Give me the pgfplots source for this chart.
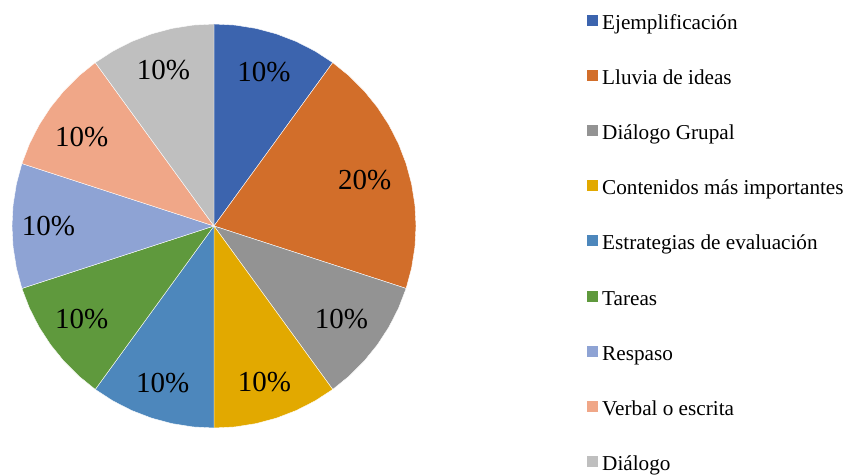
\documentclass[border=0pt]{standalone}
\usepackage{fontspec}
\setmainfont{Liberation Serif}
\usepackage{pgfplots}
\pgfplotsset{compat=1.18}
\usepgfplotslibrary{polar}
\definecolor{c1}{HTML}{3C64AE}
\definecolor{c2}{HTML}{D26E2A}
\definecolor{c3}{HTML}{939393}
\definecolor{c4}{HTML}{E2A900}
\definecolor{c5}{HTML}{4D87BC}
\definecolor{c6}{HTML}{5F993D}
\definecolor{c7}{HTML}{8EA3D4}
\definecolor{c8}{HTML}{F0A788}
\definecolor{c9}{HTML}{BFBFBF}
\begin{document}
\begin{tikzpicture}
\useasboundingbox (0pt,0pt) rectangle (848pt,476pt);
\coordinate (legtop) at (370pt,213.7pt);
\coordinate (pc) at (214pt,250pt);
\begin{polaraxis}[
  hide axis, clip=false,
  scale only axis, width=404pt, height=404pt,
  ymin=0, ymax=1,
  at={(pc)}, anchor=center,
  every axis plot/.append style={draw=white, line width=0.4pt},
  legend style={draw=none, fill=none, at={(legtop)}, anchor=north west,
    font=\fontsize{21.2}{21.2}\selectfont, row sep=35.1pt, column sep=0pt,
    nodes={inner sep=0pt, text height=15pt, text depth=5pt},
    /tikz/every odd column/.append style={column sep=4pt}},
  legend cell align=left,
  legend image code/.code={\fill[#1,draw=none] (0pt,-1.5pt) rectangle (11pt,9.5pt);},
]
% Ejemplificacion 10%
\addplot[fill=c1] coordinates {(0,0) (54,1) (60,1) (66,1) (72,1) (78,1) (84,1) (90,1) (0,0)};
\addlegendentry{Ejemplificación}
% Lluvia de ideas 20%
\addplot[fill=c2] coordinates {(0,0) (-18,1) (-12,1) (-6,1) (0,1) (6,1) (12,1) (18,1) (24,1) (30,1) (36,1) (42,1) (48,1) (54,1) (0,0)};
\addlegendentry{Lluvia de ideas}
% Dialogo Grupal 10%
\addplot[fill=c3] coordinates {(0,0) (306,1) (312,1) (318,1) (324,1) (330,1) (336,1) (342,1) (0,0)};
\addlegendentry{Diálogo Grupal}
% Contenidos 10%
\addplot[fill=c4] coordinates {(0,0) (270,1) (276,1) (282,1) (288,1) (294,1) (300,1) (306,1) (0,0)};
\addlegendentry{Contenidos más importantes}
% Estrategias 10%
\addplot[fill=c5] coordinates {(0,0) (234,1) (240,1) (246,1) (252,1) (258,1) (264,1) (270,1) (0,0)};
\addlegendentry{Estrategias de evaluación}
% Tareas 10%
\addplot[fill=c6] coordinates {(0,0) (198,1) (204,1) (210,1) (216,1) (222,1) (228,1) (234,1) (0,0)};
\addlegendentry{Tareas}
% Respaso 10%
\addplot[fill=c7] coordinates {(0,0) (162,1) (168,1) (174,1) (180,1) (186,1) (192,1) (198,1) (0,0)};
\addlegendentry{Respaso}
% Verbal o escrita 10%
\addplot[fill=c8] coordinates {(0,0) (126,1) (132,1) (138,1) (144,1) (150,1) (156,1) (162,1) (0,0)};
\addlegendentry{Verbal o escrita}
% Dialogo 10%
\addplot[fill=c9] coordinates {(0,0) (90,1) (96,1) (102,1) (108,1) (114,1) (120,1) (126,1) (0,0)};
\addlegendentry{Diálogo}
\begin{scope}[every node/.style={font=\fontsize{29}{29}\selectfont, inner sep=0pt}]
\node at (axis cs:72,0.80) {10\%};
\node at (axis cs:17,0.78) {20\%};
\node at (axis cs:-36,0.78) {10\%};
\node at (axis cs:-72,0.81) {10\%};
\node at (axis cs:-108,0.82) {10\%};
\node at (axis cs:-145,0.80) {10\%};
\node at (axis cs:180,0.82) {10\%};
\node at (axis cs:146,0.79) {10\%};
\node at (axis cs:108,0.81) {10\%};
\end{scope}
\end{polaraxis}
\end{tikzpicture}
\end{document}
